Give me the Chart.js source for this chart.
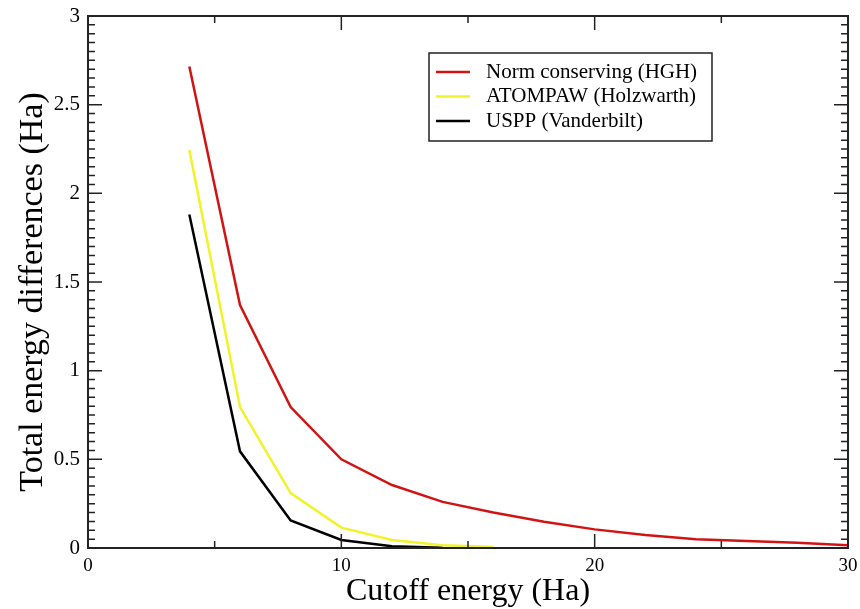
<!DOCTYPE html>
<html>
<head>
<meta charset="utf-8">
<script src="https://cdn.jsdelivr.net/npm/chart.js@4.4.1/dist/chart.umd.min.js"></script>
<style>
  body { margin: 0; background: #fff; }
  canvas { display: block; }
</style>
</head>
<body>
<canvas id="energy" width="860" height="609"></canvas>
<script>
// cutoff energies (Ha) and total energy differences (Ha)
const cutoffs = [4, 6, 8, 10, 12, 14, 16, 18, 20, 22, 24, 26, 28, 30];
const hgh = [2.715, 1.37, 0.795, 0.50, 0.355, 0.26, 0.20, 0.148, 0.105, 0.073, 0.05, 0.04, 0.03, 0.015];
const atompaw = [2.245, 0.795, 0.31, 0.115, 0.045, 0.015, 0.005];
const uspp = [1.88, 0.545, 0.155, 0.045, 0.01, 0.002];
const seriesNames = ["Norm conserving (HGH)", "ATOMPAW (Holzwarth)", "USPP (Vanderbilt)"];
const xTicks = [0, 10, 20, 30];
const yTicks = [0, 0.5, 1, 1.5, 2, 2.5, 3];
const yTitle = "Total energy differences (Ha)";

const serif = "'Liberation Serif', 'Times New Roman', serif";
const axisColor = "#222";

const toPoints = (vals) => vals.map((v, i) => ({ x: cutoffs[i], y: v }));

// frame, inward ticks (major + minor) on all four sides, y title and the boxed legend
const framePlugin = {
  id: "frame",
  afterDatasetsDraw(chart) {
    const { ctx, chartArea: a, scales } = chart;
    const xs = scales.x, ys = scales.y;
    ctx.save();
    ctx.strokeStyle = axisColor;
    ctx.lineWidth = 1.5;
    ctx.beginPath();
    for (let i = 0; i <= 6; i++) {
      const v = i * 5;
      const px = xs.getPixelForValue(v);
      const len = v % 10 === 0 ? 14 : 7;
      ctx.moveTo(px, a.bottom); ctx.lineTo(px, a.bottom - len);
      ctx.moveTo(px, a.top); ctx.lineTo(px, a.top + len);
    }
    for (let i = 0; i <= 60; i++) {
      const py = ys.getPixelForValue(i * 0.05);
      const len = i % 10 === 0 ? 14 : 7;
      ctx.moveTo(a.left, py); ctx.lineTo(a.left + len, py);
      ctx.moveTo(a.right, py); ctx.lineTo(a.right - len, py);
    }
    ctx.stroke();
    ctx.lineWidth = 2;
    ctx.strokeRect(a.left, a.top, a.right - a.left, a.bottom - a.top);

    // y axis title
    ctx.save();
    ctx.translate(33, 292);
    ctx.rotate(-Math.PI / 2);
    ctx.font = "34px " + serif;
    ctx.fillStyle = "#000";
    ctx.textAlign = "center";
    ctx.textBaseline = "middle";
    ctx.fillText(yTitle, 0, 0);
    ctx.restore();

    // legend
    const bx = 429, by = 53, bw = 283, bh = 88;
    ctx.fillStyle = "#fff";
    ctx.fillRect(bx, by, bw, bh);
    ctx.lineWidth = 1.5;
    ctx.strokeRect(bx, by, bw, bh);
    ctx.font = "21px " + serif;
    ctx.textBaseline = "middle";
    chart.data.datasets.forEach((ds, i) => {
      const y = 72 + i * 24.5;
      ctx.strokeStyle = ds.borderColor;
      ctx.lineWidth = 2.5;
      ctx.beginPath();
      ctx.moveTo(436, y); ctx.lineTo(470, y);
      ctx.stroke();
      ctx.fillStyle = "#000";
      ctx.fillText(ds.label, 486, y);
    });
    ctx.restore();
  }
};

new Chart(document.getElementById("energy"), {
  type: "line",
  data: {
    datasets: [
      { label: seriesNames[0], data: toPoints(hgh), borderColor: "#d01414" },
      { label: seriesNames[1], data: toPoints(atompaw), borderColor: "#f2f22a" },
      { label: seriesNames[2], data: toPoints(uspp), borderColor: "#000000" },
    ].map((d) => ({ ...d, borderWidth: 2.5, pointRadius: 0, tension: 0, fill: false })),
  },
  options: {
    responsive: false,
    devicePixelRatio: 1,
    animation: false,
    layout: { padding: { top: 16, right: 12, left: 0, bottom: 0 } },
    plugins: { legend: { display: false }, tooltip: { enabled: false } },
    scales: {
      x: {
        type: "linear",
        min: 0,
        max: 30,
        afterFit: (s) => { s.height = 61; s.paddingRight = 0; s.paddingLeft = 0; },
        afterBuildTicks: (s) => { s.ticks = xTicks.map((v) => ({ value: v })); },
        grid: { display: false, drawTicks: false },
        border: { display: false },
        ticks: { padding: 7, color: "#000", font: { family: serif, size: 19 }, callback: (v) => String(v) },
        title: {
          display: true,
          text: "Cutoff energy (Ha)",
          color: "#000",
          font: { family: serif, size: 32, lineHeight: 1 },
          padding: { top: 0, bottom: 1 },
        },
      },
      y: {
        min: 0,
        max: 3,
        afterFit: (s) => { s.width = 88; s.paddingTop = 0; s.paddingBottom = 0; },
        afterBuildTicks: (s) => { s.ticks = yTicks.map((v) => ({ value: v })); },
        grid: { display: false, drawTicks: false },
        border: { display: false },
        ticks: { padding: 8, color: "#000", font: { family: serif, size: 21 }, callback: (v) => String(v) },
      },
    },
  },
  plugins: [framePlugin],
});
</script>
</body>
</html>
